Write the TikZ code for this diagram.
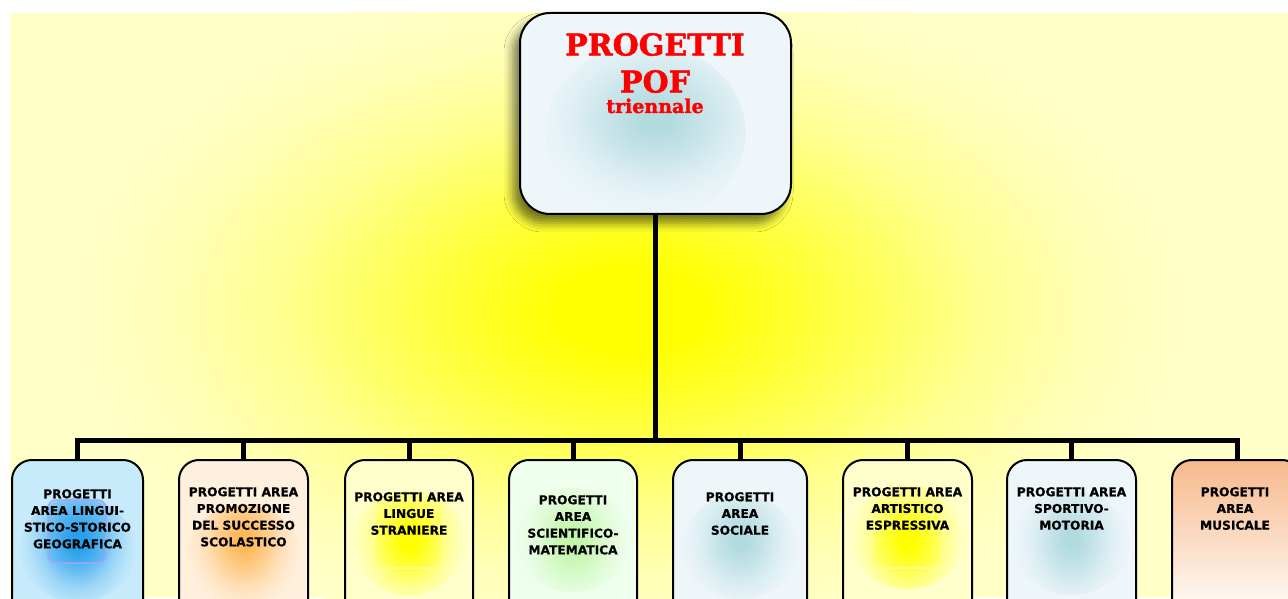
\documentclass[tikz,border=0pt]{standalone}
\usepackage{fontspec}
\usetikzlibrary{shadows.blur}
\newfontfamily\boxfont{DejaVu Sans}[BoldFeatures={FakeBold=0.5}]
\newfontfamily\titlefont{DejaVu Serif}[BoldFeatures={FakeBold=1.5}]
\definecolor{bgpale}{RGB}{255,255,200}
\definecolor{bgcore}{RGB}{255,255,0}
\definecolor{fblue}{RGB}{200,235,251}
\definecolor{gblue}{RGB}{40,160,236}
\definecolor{fpeach}{RGB}{255,240,222}
\definecolor{gorange}{RGB}{255,185,90}
\definecolor{fyell}{RGB}{255,255,204}
\definecolor{gyell}{RGB}{255,255,0}
\definecolor{fgreen}{RGB}{238,255,238}
\definecolor{ggreen}{RGB}{195,245,170}
\definecolor{fice}{RGB}{238,246,250}
\definecolor{gteal}{RGB}{178,219,224}
\definecolor{fsalmon}{RGB}{247,185,140}
\definecolor{sqblue}{RGB}{160,168,245}
\definecolor{sqyell}{RGB}{255,255,150}
\newcommand\mkglowshade[3]{%
  \colorlet{#1mA}{#2!65!#3}\colorlet{#1mB}{#2!28!#3}\colorlet{#1mC}{#2!8!#3}%
  \pgfdeclareradialshading{#1}{\pgfpoint{0bp}{0bp}}{color(0bp)=(#2); color(3bp)=(#2); color(9bp)=(#1mA); color(15bp)=(#1mB); color(20bp)=(#1mC); color(24bp)=(#3); color(50bp)=(#3)}}
\mkglowshade{glowbg}{bgcore}{bgpale}
\mkglowshade{glowblue}{gblue}{fblue}
\mkglowshade{gloworange}{gorange}{fpeach}
\mkglowshade{glowyell}{gyell}{fyell}
\mkglowshade{glowgreen}{ggreen}{fgreen}
\mkglowshade{glowteal}{gteal}{fice}
\tikzset{
  conn/.style={line width=5pt, draw=black},
  boxst/.style n args={4}{draw=black, line width=2pt, rounded corners=20pt,
    minimum width=#4, minimum height=160pt, inner sep=0pt, fill=#1,
    path picture={\shade[shading=#2, shift={(path picture bounding box.center)}] (0pt,#3) ellipse [x radius=58pt, y radius=52pt];}},
  boxtxt/.style={anchor=north, inner sep=0pt, align=center, text=black,
    font=\boxfont\bfseries\fontsize{12.2}{16.7}\selectfont},
  sq/.style={rounded corners=8pt, line width=1.5pt}
}
\begin{document}
\begin{tikzpicture}[x=1pt,y=1pt]
\useasboundingbox (0,0) rectangle (1288,598);
\fill[white] (0,0) rectangle (1288,598);
% background
\begin{scope}
  \clip (10,0) rectangle (1288,585);
  \fill[bgpale] (10,0) rectangle (1288,585);
  \shade[shading=glowbg] (630,288) ellipse [x radius=580pt, y radius=340pt];
\end{scope}
% top box
\node[draw=black, line width=2pt, rounded corners=30pt, minimum width=271pt, minimum height=201pt,
  fill=fice, blur shadow={shadow xshift=-7pt, shadow yshift=-9pt, shadow blur radius=9pt, shadow opacity=55},
  path picture={\shade[shading=glowteal, shift={(path picture bounding box.center)}] (-10pt,-20pt) ellipse [x radius=100pt, y radius=90pt];}]
  (top) at (655.5,484.5) {};
\node[anchor=north, inner sep=0pt, align=center, text=red,
  font=\titlefont\bfseries\fontsize{30}{37}\selectfont] (title) at (655,565) {PROGETTI\\POF};
\node[anchor=base, inner sep=0pt, text=red,
  font=\titlefont\bfseries\fontsize{19}{22}\selectfont] (sub) at (655,485) {triennale};
% bottom boxes
\node[boxst={fblue}{glowblue}{-10pt}{131pt}] (b1) at (77.5,58) {};
\node[boxst={fpeach}{gloworange}{-17pt}{129pt}] (b2) at (243.5,58) {};
\node[boxst={fyell}{glowyell}{-3pt}{128pt}] (b3) at (409,58) {};
\node[boxst={fgreen}{glowgreen}{0pt}{128pt}] (b4) at (573,58) {};
\node[boxst={fice}{glowteal}{-7pt}{134pt}] (b5) at (740,58) {};
\node[boxst={fyell}{glowyell}{3pt}{129pt}] (b6) at (907.5,58) {};
\node[boxst={fice}{glowteal}{-3pt}{129pt}] (b7) at (1071.5,58) {};
\node[draw=black, line width=2pt, rounded corners=20pt, minimum width=130pt, minimum height=160pt,
  top color=fsalmon, bottom color=white] (b8) at (1237,58) {};
% glow squares
\draw[sq, draw=sqblue, fill=gblue, fill opacity=0.2] (48,98) rectangle (106,35);
\draw[sq, draw=sqyell, fill=gyell, fill opacity=0.12] (375,98) rectangle (443,30);
\draw[sq, draw=sqyell, fill=gyell, fill opacity=0.12] (872,98) rectangle (942,30);
% connectors
\coordinate (bus) at (655,158);
\foreach \i in {1,...,8}
  \draw[conn] (top.south) -- (top.south |- bus) -| (b\i.north);
% texts
\node[boxtxt] (t1) at (77.5,109) {PROGETTI\\AREA LINGUI-\\STICO-STORICO\\GEOGRAFICA};
\node[boxtxt] (t2) at (243.5,111) {PROGETTI AREA\\PROMOZIONE\\DEL SUCCESSO\\SCOLASTICO};
\node[boxtxt] (t3) at (409,106) {PROGETTI AREA\\LINGUE\\STRANIERE};
\node[boxtxt] (t4) at (573,103) {PROGETTI\\AREA\\SCIENTIFICO-\\MATEMATICA};
\node[boxtxt] (t5) at (740,106) {PROGETTI\\AREA\\SOCIALE};
\node[boxtxt] (t6) at (907.5,111) {PROGETTI AREA\\ARTISTICO\\ESPRESSIVA};
\node[boxtxt] (t7) at (1071.5,111) {PROGETTI AREA\\SPORTIVO-\\MOTORIA};
\node[boxtxt] (t8) at (1235,111) {PROGETTI\\AREA\\MUSICALE};
\end{tikzpicture}
\end{document}
